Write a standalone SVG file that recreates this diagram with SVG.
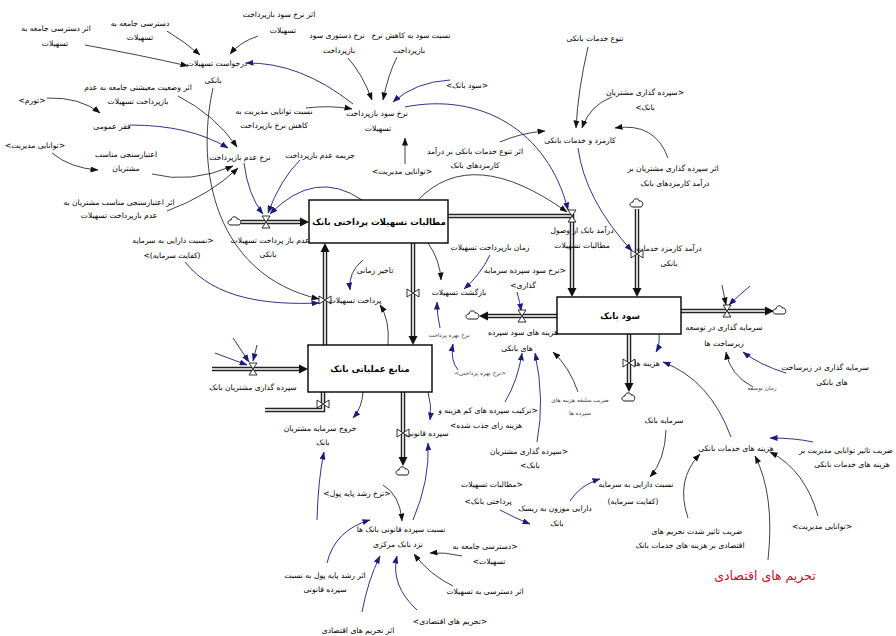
<svg xmlns="http://www.w3.org/2000/svg" width="896" height="636" viewBox="0 0 896 636">
<style>
text{font-family:"DejaVu Sans","Noto Sans",sans-serif;font-size:7.6px;fill:#000;text-anchor:middle;direction:rtl}
.st{font-size:8.6px;font-weight:bold}
.sm{font-size:5.8px;fill:#444}
.red{font-size:12.5px;fill:#c0142a}
.stock{fill:#fff;stroke:#000;stroke-width:1.4}
.po{fill:none;stroke:#222;stroke-width:4.5}
.pi{fill:none;stroke:#fff;stroke-width:1.6}
.pa{fill:#111}
.k{fill:none;stroke:#111;stroke-width:0.8;marker-end:url(#ak)}
.b{fill:none;stroke:#1c1c7a;stroke-width:0.9;marker-end:url(#ab)}
.v{fill:#fff;stroke:#000;stroke-width:0.8}
.cl{fill:#fff;stroke:#000;stroke-width:0.9}
</style>
<defs>
<marker id="ak" markerUnits="userSpaceOnUse" markerWidth="8" markerHeight="6" refX="7.5" refY="3" orient="auto"><path d="M0,0 L8,3 L0,6 Z" fill="#111"/></marker>
<marker id="ab" markerUnits="userSpaceOnUse" markerWidth="8" markerHeight="6" refX="7.5" refY="3" orient="auto"><path d="M0,0 L8,3 L0,6 Z" fill="#1c1c7a"/></marker>
<path id="valve" class="v" d="M-4,-6 L4,-6 L-4,6 L4,6 Z"/>
<path id="cloud" class="cl" d="M-4,3 C-8,3 -8,-2 -4,-2 C-4,-6 2,-6 2,-3 C6,-4 7,2 4,3 Z"/>
</defs>
<rect width="896" height="636" fill="#fff"/>

<g id="connectors">
<path class="k" d="M167,31 Q185,42 200,55"/>
<path class="k" d="M85,45 Q140,55 188,66"/>
<path class="k" d="M258,36 Q240,42 230,54"/>
<path class="b" d="M353,104 Q300,62 246,63"/>
<path class="k" d="M348,58 Q363,75 372,100"/>
<path class="k" d="M397,57 Q388,75 383,100"/>
<path class="b" d="M450,80 Q415,82 393,102"/>
<path class="k" d="M306,108 Q330,105 352,109"/>
<path class="k" d="M405,164 L405,138"/>
<path class="b" d="M405,107 C480,92 548,130 568,210"/>
<path class="k" d="M500,142 Q520,133 545,131"/>
<path class="k" d="M588,47 Q578,90 576,128"/>
<path class="k" d="M612,97 Q590,105 582,128"/>
<path class="k" d="M668,158 Q655,122 615,128"/>
<path class="b" d="M578,148 Q585,200 632,251"/>
<path class="k" d="M178,96 Q215,115 237,147"/>
<path class="b" d="M130,125 Q190,125 228,148"/>
<path class="k" d="M152,174 Q190,184 233,166"/>
<path class="k" d="M167,211 Q210,195 238,168"/>
<path class="k" d="M47,98 Q80,97 100,113"/>
<path class="k" d="M52,153 Q70,168 98,170"/>
<path class="b" d="M244,163 Q248,195 263,214"/>
<path class="b" d="M300,160 Q280,180 268,213"/>
<path class="b" d="M362,200 Q315,168 270,214"/>
<path class="k" d="M213,88 C195,170 215,275 319,299"/>
<path class="b" d="M185,262 C215,300 270,305 319,303"/>
<path class="k" d="M418,200 Q472,144 567,212"/>
<path class="k" d="M428,243 Q440,260 441,280"/>
<path class="b" d="M490,255 Q480,275 464,289"/>
<path class="b" d="M363,260 Q348,272 350,290"/>
<path class="k" d="M388,345 Q390,320 380,305"/>
<path class="b" d="M440,328 Q437,315 437,302"/>
<path class="b" d="M458,370 Q450,360 453,344"/>
<path class="b" d="M517,292 Q520,302 521,311"/>
<path class="b" d="M505,402 Q518,380 522,353"/>
<path class="b" d="M537,442 Q545,400 535,353"/>
<path class="k" d="M578,392 Q570,368 553,352"/>
<path class="b" d="M363,392 Q362,408 353,418"/>
<path class="b" d="M428,392 Q432,405 430,420"/>
<path class="b" d="M413,520 Q430,480 428,443"/>
<path class="b" d="M317,520 Q318,480 324,452"/>
<path class="k" d="M383,485 Q400,495 402,521"/>
<path class="b" d="M327,563 Q335,530 370,520"/>
<path class="b" d="M362,612 Q368,580 380,556"/>
<path class="b" d="M417,610 Q390,585 397,556"/>
<path class="k" d="M453,586 Q430,575 414,554"/>
<path class="k" d="M462,556 Q445,552 430,553"/>
<path class="b" d="M500,510 Q515,518 530,524"/>
<path class="b" d="M570,501 Q580,485 600,479"/>
<path class="k" d="M666,430 Q665,460 650,477"/>
<path class="b" d="M731,437 Q710,380 663,362"/>
<path class="b" d="M659,334 Q660,345 656,352"/>
<path class="b" d="M813,442 Q795,438 770,438"/>
<path class="k" d="M818,516 Q805,470 770,452"/>
<path class="k" d="M768,560 Q775,495 755,456"/>
<path class="k" d="M688,518 Q675,480 700,454"/>
<path class="b" d="M786,373 Q760,365 743,352"/>
<path class="k" d="M753,387 Q730,375 726,352"/>
<path class="k" d="M722,285 Q724,295 726,305"/>
<path class="b" d="M750,286 Q738,296 729,305"/>
<path class="b" d="M233,338 L249,362"/>
<path class="b" d="M257,345 L253,361"/>
<path class="b" d="M215,353 L247,365"/>
</g>

<g id="pipes">
<path class="po" d="M241,222 H301"/><path class="pi" d="M241,222 H301"/><polygon class="pa" points="300,217.5 309,222 300,226.5"/>
<path class="po" d="M447,216 H572 V289"/><path class="pi" d="M447,216 H572 V289"/><polygon class="pa" points="567.5,288 572,297 576.5,288"/>
<path class="po" d="M413,243 V337"/><path class="pi" d="M413,243 V337"/><polygon class="pa" points="408.5,336 413,345 417.5,336"/>
<path class="po" d="M325,345 V251"/><path class="pi" d="M325,345 V251"/><polygon class="pa" points="320.5,252 325,243 329.5,252"/>
<path class="po" d="M212,369 H300"/><path class="pi" d="M212,369 H300"/><polygon class="pa" points="299,364.5 308,369 299,373.5"/>
<path class="po" d="M323,392 V410 H265"/><path class="pi" d="M323,392 V410 H265"/>
<path class="po" d="M403,392 V458"/><path class="pi" d="M403,392 V458"/><polygon class="pa" points="398.5,457 403,466 407.5,457"/>
<path class="po" d="M637,209 V289"/><path class="pi" d="M637,209 V289"/><polygon class="pa" points="632.5,288 637,297 641.5,288"/>
<path class="po" d="M681,311 H766"/><path class="pi" d="M681,311 H766"/><polygon class="pa" points="765,306.5 774,311 765,315.5"/>
<path class="po" d="M629,334 V384"/><path class="pi" d="M629,334 V384"/><polygon class="pa" points="624.5,383 629,392 633.5,383"/>
<path class="po" d="M557,316 H487"/><path class="pi" d="M557,316 H487"/><polygon class="pa" points="488,311.5 479,316 488,320.5"/>
<use href="#cloud" x="235" y="222"/>
<use href="#cloud" x="403" y="472"/>
<use href="#cloud" x="637" y="204"/>
<use href="#cloud" x="780" y="311"/>
<use href="#cloud" x="629" y="398"/>
<use href="#cloud" x="473" y="316"/>
</g>

<g id="stock1"><rect class="stock" x="309" y="200" width="139" height="43"/><text class="st" x="379" y="225">مطالبات تسهیلات پرداختی بانک</text></g>
<g id="stock2"><rect class="stock" x="557" y="297" width="124" height="37"/><text class="st" x="620" y="319">سود بانک</text></g>
<g id="stock3"><rect class="stock" x="308" y="345" width="124" height="47"/><text class="st" x="370" y="372">منابع عملیاتی بانک</text></g>

<g id="f1"><use href="#valve" x="266" y="222"/><text x="270" y="243">عدم باز پرداخت تسهیلات</text><text x="268" y="257">بانکی</text></g>
<g id="f2"><use href="#valve" x="572" y="216"/><text x="582" y="233">درآمد بانک از وصول</text><text x="582" y="248">مطالبات تسهیلات</text></g>
<g id="f3"><use href="#valve" x="413" y="293" transform="rotate(90 413 293)"/><text x="459" y="295">بازگشت تسهیلات</text></g>
<g id="f4"><use href="#valve" x="325" y="300" transform="rotate(90 325 300)"/><text x="355" y="303">پرداخت تسهیلات</text></g>
<g id="f5"><use href="#valve" x="253" y="369"/><text x="253" y="390">سپرده گذاری مشتریان بانک</text></g>
<g id="f6"><use href="#valve" x="323" y="404" transform="rotate(90 323 404)"/><text x="320" y="431">خروج سرمایه مشتریان</text><text x="323" y="445">بانک</text></g>
<g id="f7"><use href="#valve" x="403" y="433" transform="rotate(90 403 433)"/><text x="427" y="436">سپرده قانونی</text></g>
<g id="f8"><use href="#valve" x="637" y="254" transform="rotate(90 637 254)"/><text x="669" y="251">درآمد کارمزد خدمات</text><text x="669" y="266">بانکی</text></g>
<g id="f9"><use href="#valve" x="727" y="311"/><text x="724" y="330">سرمایه گذاری در توسعه</text><text x="724" y="346">زیرساخت ها</text></g>
<g id="f10"><use href="#valve" x="629" y="363" transform="rotate(90 629 363)"/><text x="647" y="366">هزینه ها</text></g>
<g id="f11"><use href="#valve" x="522" y="316"/><text x="523" y="335">هزینه های سود سپرده</text><text x="517" y="351">های بانکی</text></g>

<g id="n1"><text x="140" y="26">دسترسی جامعه به</text><text x="140" y="40">تسهیلات</text></g>
<g id="n2"><text x="56" y="31">اثر دسترسی جامعه به</text><text x="55" y="46">تسهیلات</text></g>
<g id="n3"><text x="279" y="17">اثر نرخ سود بازپرداخت</text><text x="283" y="33">تسهیلات</text></g>
<g id="n4"><text x="217" y="66">درخواست تسهیلات</text><text x="213" y="83">بانکی</text></g>
<g id="n5"><text x="138" y="90">اثر وضعیت معیشتی جامعه به عدم</text><text x="138" y="104">بازپرداخت تسهیلات</text></g>
<g id="n6"><text x="32" y="103">&lt;تورم&gt;</text></g>
<g id="n7"><text x="112" y="129">فقر عمومی</text></g>
<g id="n8"><text x="35" y="148">&lt;توانایی مدیریت&gt;</text></g>
<g id="n9"><text x="126" y="157">اعتبارسنجی مناسب</text><text x="126" y="171">مشتریان</text></g>
<g id="n10"><text x="119" y="205">اثر اعتبارسنجی مناسب مشتریان به</text><text x="119" y="218">عدم بازپرداخت تسهیلات</text></g>
<g id="n11"><text x="240" y="160">نرخ عدم بازپرداخت</text></g>
<g id="n12"><text x="274" y="114">نسبت توانایی مدیریت به</text><text x="274" y="128">کاهش نرخ بازپرداخت</text></g>
<g id="n13"><text x="320" y="158">جریمه عدم بازپرداخت</text></g>
<g id="n14"><text x="337" y="38">نرخ دستوری سود</text><text x="339" y="53">بازپرداخت</text></g>
<g id="n15"><text x="411" y="38">نسبت سود به کاهش نرخ</text><text x="409" y="53">بازپرداخت</text></g>
<g id="n16"><text x="467" y="88">&lt;سود بانک&gt;</text></g>
<g id="n17"><text x="377" y="116">نرخ سود بازپرداخت</text><text x="378" y="131">تسهیلات</text></g>
<g id="n18"><text x="402" y="174">&lt;توانایی مدیریت&gt;</text></g>
<g id="n19"><text x="475" y="154">اثر تنوع خدمات بانکی بر درآمد</text><text x="475" y="168">کارمزدهای بانک</text></g>
<g id="n20"><text x="580" y="143">کارمزد و خدمات بانکی</text></g>
<g id="n21"><text x="595" y="41">تنوع خدمات بانکی</text></g>
<g id="n22"><text x="645" y="95">&lt;سپرده گذاری مشتریان</text><text x="645" y="110">بانک&gt;</text></g>
<g id="n23"><text x="673" y="171">اثر سپرده گذاری مشتریان بر</text><text x="675" y="186">درآمد کارمزدهای بانک</text></g>
<g id="n24"><text x="173" y="243">&lt;نسبت دارایی به سرمایه</text><text x="172" y="258">(کفایت سرمایه)&gt;</text></g>
<g id="n25"><text x="490" y="250">زمان بازپرداخت تسهیلات</text></g>
<g id="n26"><text x="525" y="273">&lt;نرخ سود سپرده سرمایه</text><text x="523" y="288">گذاری&gt;</text></g>
<g id="n27"><text x="375" y="273">تاخیر زمانی</text></g>
<g id="n28"><text class="sm" x="449" y="337">نرخ بهره پرداخت</text></g>
<g id="n29"><text class="sm" x="480" y="375">&lt;نرخ بهره پرداختی&gt;</text></g>
<g id="n30"><text x="488" y="413">&lt;ترکیب سپرده های کم هزینه و</text><text x="486" y="428">هزینه زای جذب شده&gt;</text></g>
<g id="n31"><text x="529" y="454">&lt;سپرده گذاری مشتریان</text><text x="530" y="468">بانک&gt;</text></g>
<g id="n32"><text class="sm" x="580" y="402">ضریب سلیقه هزینه های</text><text class="sm" x="580" y="415">سپرده ها</text></g>
<g id="n33"><text x="825" y="370">سرمایه گذاری در زیرساخت</text><text x="832" y="385">های بانکی</text></g>
<g id="n34"><text class="sm" x="762" y="390">زمان توسعه</text></g>
<g id="n35"><text x="664" y="423">سرمایه بانک</text></g>
<g id="n36"><text x="736" y="451">هزینه های خدمات بانکی</text></g>
<g id="n37"><text x="846" y="453">ضریب تاثیر توانایی مدیریت بر</text><text x="852" y="467">هزینه های خدمات بانکی</text></g>
<g id="n38"><text x="822" y="529">&lt;توانایی مدیریت&gt;</text></g>
<g id="n39"><text x="697" y="534">ضریب تاثیر شدت تحریم های</text><text x="690" y="548">اقتصادی بر هزینه های خدمات بانک</text></g>
<g id="n40"><text class="red" x="765" y="580">تحریم های اقتصادی</text></g>
<g id="n41"><text x="492" y="487">&lt;مطالبات تسهیلات</text><text x="488" y="504">پرداختی بانک&gt;</text></g>
<g id="n42"><text x="555" y="511">دارایی موزون به ریسک</text><text x="557" y="526">بانک</text></g>
<g id="n43"><text x="636" y="487">نسبت دارایی به سرمایه</text><text x="633" y="504">(کفایت سرمایه)</text></g>
<g id="n44"><text x="485" y="549">&lt;دسترسی جامعه به</text><text x="489" y="564">تسهیلات&gt;</text></g>
<g id="n45"><text x="485" y="594">اثر دسترسی به تسهیلات</text></g>
<g id="n46"><text x="450" y="624">&lt;تحریم های اقتصادی&gt;</text></g>
<g id="n47"><text x="358" y="633">اثر تحریم های اقتصادی</text></g>
<g id="n48"><text x="401" y="532">نسبت سپرده قانونی بانک ها</text><text x="398" y="547">نزد بانک مرکزی</text></g>
<g id="n49"><text x="357" y="496">&lt;نرخ رشد پایه پول&gt;</text></g>
<g id="n50"><text x="325" y="578">اثر رشد پایه پول به نسبت</text><text x="325" y="592">سپرده قانونی</text></g>
</svg>
